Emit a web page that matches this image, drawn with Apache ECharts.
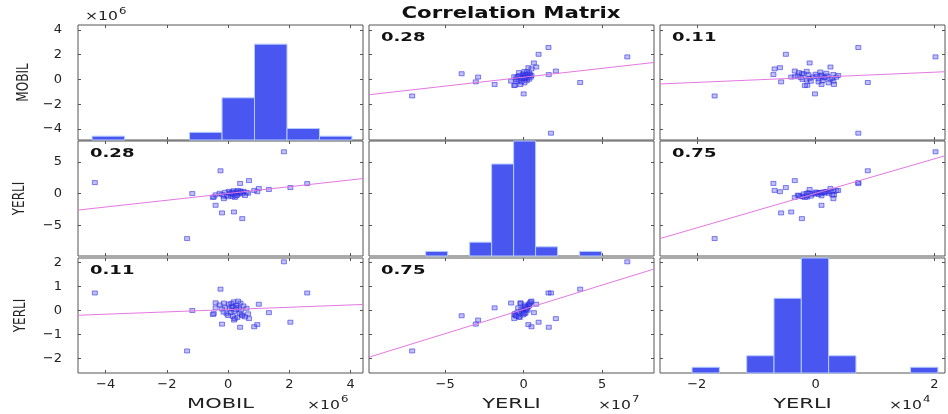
<!DOCTYPE html>
<html><head><meta charset="utf-8">
<script src="https://cdn.jsdelivr.net/npm/echarts@6/dist/echarts.min.js"></script>
<style>html,body{margin:0;padding:0;background:#fff}#c{width:948px;height:414px}</style>
</head><body><div id="c"></div>
<script>
// ---- data (values scaled by 10^exponent) ----
const varNames = ['MOBIL', 'YERLI', 'YERLI'];
const varExponents = ['6', '7', '4'];
const chartTitle = 'Correlation Matrix';

const mobil = [-4.35,-1.17,-1.34,-0.25,-0.41,-0.20,0.19,0.46,0.68,0.39,1.00,1.33,1.82,2.03,2.58,-0.47,-0.14,-0.41,0.95,0.85,-0.50,
  0.05,0.12,0.20,0.28,0.35,-0.05,0.15,0.40,0.08,0.25,-0.10,0.50,0.30,0.18,0.45,-0.20,0.02,0.60,0.22,0.38,-0.28,0.10,0.55,0.32,0.00,0.42,0.16,-0.15,0.65,0.26];
const yerli7 = [1.74,0.00,-7.10,3.60,-1.85,-3.05,-2.90,-3.95,2.05,1.60,0.80,0.65,6.60,0.95,1.58,-0.55,-0.80,-0.20,0.30,0.50,-0.60,
  0.10,0.25,-0.10,0.30,0.05,-0.30,-0.45,0.40,0.00,0.15,0.20,0.35,-0.25,0.45,-0.05,-0.15,0.35,0.20,-0.60,0.12,0.05,-0.20,-0.30,0.50,-0.50,0.25,0.08,-0.40,0.05,-0.35];
const yerli4 = [0.72,-0.01,-1.70,0.88,0.10,-0.58,-0.41,-0.23,-0.35,-0.71,0.25,-0.10,2.02,-0.50,0.72,-0.14,0.30,0.31,-0.60,-0.69,-0.18,
  0.05,0.15,-0.05,0.20,0.10,-0.15,-0.25,0.30,-0.10,0.02,0.12,0.18,-0.30,0.35,-0.20,0.05,0.25,0.08,-0.35,-0.12,0.22,0.28,-0.28,0.38,-0.22,0.00,0.15,-0.08,-0.15,0.10];

const corrValues = [[1, 0.28, 0.11], [0.28, 1, 0.75], [0.11, 0.75, 1]];

const axisMin = [-4.9, -9.85, -2.62];
const axisMax = [4.4, 8.3, 2.18];
const xTickValues = [[-4, -2, 0, 2, 4], [-5, 0, 5], [-2, 0, 2]];
const yTickValues = [[-4, -2, 0, 2, 4], [-5, 0, 5], [-2, -1, 0, 1, 2]];

const mobilBinEdges = [-4.44, -3.38, -2.32, -1.26, -0.2, 0.86, 1.92, 2.98, 4.04];
const mobilCounts = [1, 0, 0, 2, 11, 25, 3, 1];
const yerli7BinEdges = [-6.24, -4.84, -3.44, -2.04, -0.64, 0.76, 2.16, 3.56, 4.96];
const yerli7Counts = [1, 0, 3, 20, 25, 2, 0, 1];
const yerli4BinEdges = [-2.08, -1.62, -1.16, -0.7, -0.24, 0.22, 0.68, 1.14, 1.6, 2.06];
const yerli4Counts = [1, 0, 3, 13, 20, 3, 0, 0, 1];
const histAxisMax = [30, 25, 20];

const fitR0C1 = [[-9.85, -1.24], [8.3, 1.37]];
const fitR0C2 = [[-2.62, -0.37], [2.18, 0.62]];
const fitR1C0 = [[-4.9, -2.6], [4.4, 2.37]];
const fitR1C2 = [[-2.62, -7.1], [2.18, 5.97]];
const fitR2C0 = [[-4.9, -0.21], [4.4, 0.24]];
const fitR2C1 = [[-9.85, -1.96], [8.3, 1.72]];

// ---- layout ----
const colLeft = [78, 369, 660], colW = 285;
const rowTop = [25, 141, 258], rowH = 115;
const FONT = 'DejaVu Sans';
const frameColor = '#555';
const barColor = 'rgb(74,86,240)';
const lineColor = '#e478e0';

const vars = [mobil, yerli7, yerli4];
const bins = [mobilBinEdges, yerli7BinEdges, yerli4BinEdges];
const counts = [mobilCounts, yerli7Counts, yerli4Counts];
const fits = [[null, fitR0C1, fitR0C2], [fitR1C0, null, fitR1C2], [fitR2C0, fitR2C1, null]];

const fmt = v => String(v).replace('-', '\u2212');

const grids = [], xAxes = [], yAxes = [], series = [], graphics = [];

function xAxisDef(c, g, pos, showLabel) {
  return {
    type: 'value', gridIndex: g, position: pos, min: axisMin[c], max: axisMax[c],
    axisLine: { show: false, onZero: false }, splitLine: { show: false },
    axisTick: { show: true, inside: true, length: 3, customValues: xTickValues[c], lineStyle: { color: frameColor } },
    axisLabel: { show: showLabel, customValues: xTickValues[c], formatter: fmt, margin: 5,
      fontFamily: FONT, fontSize: 13, color: '#222' }
  };
}
function yAxisDef(r, g, pos, showLabel) {
  return {
    type: 'value', gridIndex: g, position: pos, min: axisMin[r], max: axisMax[r],
    axisLine: { show: false, onZero: false }, splitLine: { show: false },
    axisTick: { show: true, inside: true, length: 3, customValues: yTickValues[r], lineStyle: { color: frameColor } },
    axisLabel: { show: showLabel, customValues: yTickValues[r], formatter: fmt, margin: 16,
      fontFamily: FONT, fontSize: 13, color: '#222' }
  };
}

for (let r = 0; r < 3; r++) {
  for (let c = 0; c < 3; c++) {
    const g = grids.length;
    grids.push({ left: colLeft[c], top: rowTop[r], width: colW, height: rowH, show: true,
      borderColor: frameColor, borderWidth: 1, backgroundColor: '#fff' });
    const xb = xAxes.length;
    xAxes.push(xAxisDef(c, g, 'bottom', r === 2));
    xAxes.push(xAxisDef(c, g, 'top', false));
    const yl = yAxes.length;
    yAxes.push(yAxisDef(r, g, 'left', c === 0));
    yAxes.push(yAxisDef(r, g, 'right', false));
    if (r === c) {
      yAxes.push({ type: 'value', gridIndex: g, min: 0, max: histAxisMax[r], show: false });
      const edges = bins[r], cnt = counts[r];
      const data = cnt.map((n, i) => [edges[i], edges[i + 1], n]).filter(d => d[2] > 0);
      series.push({
        type: 'custom', xAxisIndex: xb, yAxisIndex: yl + 2, silent: true,
        dimensions: ['x0', 'x1', 'n'], encode: { x: [0, 1], y: 2 },
        data,
        renderItem: (params, api) => {
          const p0 = api.coord([api.value(0), 0]);
          const p1 = api.coord([api.value(1), api.value(2)]);
          return { type: 'rect', shape: { x: p0[0], y: p1[1], width: p1[0] - p0[0], height: p0[1] - p1[1] },
            style: { fill: barColor, stroke: '#b4ccff', lineWidth: 1 } };
        }
      });
    } else {
      series.push({
        type: 'scatter', xAxisIndex: xb, yAxisIndex: yl, silent: true,
        symbol: 'rect', symbolSize: [5, 4],
        itemStyle: { color: 'rgba(80,80,240,0.45)', borderColor: 'rgba(40,40,220,0.85)', borderWidth: 0.8 },
        data: vars[c].map((v, i) => [v, vars[r][i]])
      });
      series.push({
        type: 'line', xAxisIndex: xb, yAxisIndex: yl, silent: true, symbol: 'none',
        lineStyle: { color: lineColor, width: 1 }, data: fits[r][c]
      });
      graphics.push({ type: 'text', x: colLeft[c] + 12, y: rowTop[r] + 13, scaleX: 1.5,
        style: { text: corrValues[r][c].toFixed(2), font: 'bold 12px "DejaVu Sans"', fill: '#111', verticalAlign: 'middle' } });
    }
  }
}

// title
graphics.push({ type: 'text', x: 511, y: 14, scaleX: 1.33,
  style: { text: chartTitle, font: 'bold 16px "DejaVu Sans"', fill: '#111', align: 'center', verticalAlign: 'middle' } });

// axis names
for (let c = 0; c < 3; c++) {
  graphics.push({ type: 'text', x: colLeft[c] + colW / 2, y: 404, scaleX: 1.5,
    style: { text: varNames[c], font: '14px "DejaVu Sans"', fill: '#222', align: 'center', verticalAlign: 'middle' } });
  const ex = colLeft[c] + colW - 56;
  graphics.push({ type: 'text', x: ex, y: 406, scaleX: 1.3,
    style: { text: '\u00d710', font: '12px "DejaVu Sans"', fill: '#222', verticalAlign: 'middle' } });
  graphics.push({ type: 'text', x: ex + 34, y: 400, scaleX: 1.3,
    style: { text: varExponents[c], font: '9px "DejaVu Sans"', fill: '#222', verticalAlign: 'middle' } });
}
const leftNameX = [24, 20, 21];
for (let r = 0; r < 3; r++) {
  graphics.push({ type: 'text', x: leftNameX[r], y: rowTop[r] + rowH / 2, rotation: Math.PI / 2, scaleY: 1.3,
    style: { text: varNames[r], font: '12px "DejaVu Sans"', fill: '#222', align: 'center', verticalAlign: 'middle' } });
}
// top-left exponent
graphics.push({ type: 'text', x: colLeft[0] + 7, y: 17, scaleX: 1.3,
  style: { text: '\u00d710', font: '12px "DejaVu Sans"', fill: '#222', verticalAlign: 'middle' } });
graphics.push({ type: 'text', x: colLeft[0] + 41, y: 12, scaleX: 1.3,
  style: { text: varExponents[0], font: '9px "DejaVu Sans"', fill: '#222', verticalAlign: 'middle' } });

const chart = echarts.init(document.getElementById('c'));
chart.setOption({
  animation: false,
  backgroundColor: '#fff',
  grid: grids, xAxis: xAxes, yAxis: yAxes, series,
  graphic: { elements: graphics }
});
</script></body></html>
